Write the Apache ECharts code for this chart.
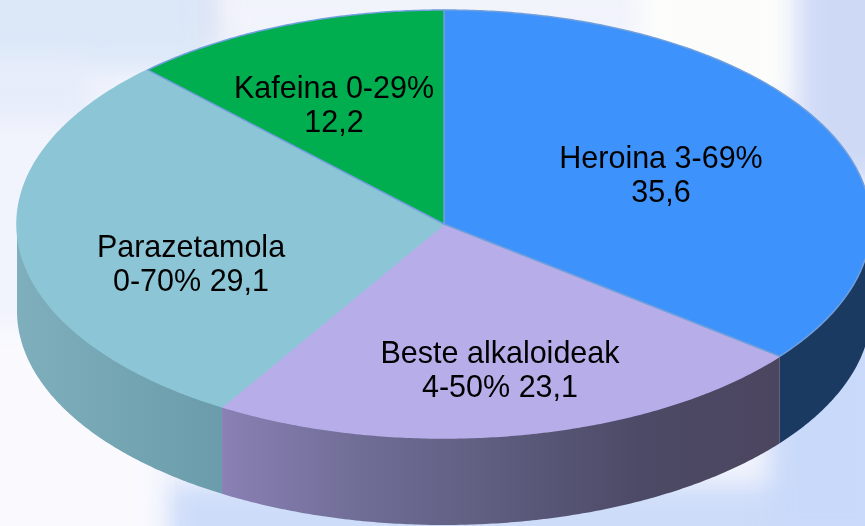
<!DOCTYPE html>
<html style="height: 100%">

<head>
	<meta charset="utf-8">
	<style>
		html, body { margin: 0; height: 100%; overflow: hidden; background: #f2f4fd; }
		#backdrop { position: absolute; left: 0; top: 0; width: 865px; height: 526px; overflow: hidden; }
		#backdrop div { position: absolute; filter: blur(12px); }
		#container { position: absolute; left: 0; top: 0; width: 865px; height: 526px; }
	</style>
</head>

<body>
	<div id="backdrop">
		<div style="left:-30px; top:-30px; width:240px; height:100px; background:#dce8f8"></div>
		<div style="left:-30px; top:60px; width:120px; height:60px; background:#e6ecfa"></div>
		<div style="left:205px; top:-20px; width:14px; height:60px; background:#d6dcee"></div>
		<div style="left:225px; top:-30px; width:430px; height:60px; background:#f1f3fb"></div>
		<div style="left:640px; top:-30px; width:150px; height:130px; background:#fcfdfb"></div>
		<div style="left:800px; top:-30px; width:100px; height:210px; background:#ced9f6"></div>
		<div style="left:170px; top:485px; width:720px; height:80px; background:#cddcf9"></div>
		<div style="left:770px; top:300px; width:120px; height:240px; background:#c9d9f9"></div>
		<div style="left:-30px; top:330px; width:185px; height:230px; background:#fafafe"></div>
	</div>
	<div id="container"></div>
	<script type="text/javascript" src="https://cdn.jsdelivr.net/npm/echarts@6/dist/echarts.min.js"></script>
	<script type="text/javascript">
		const categories = ['Heroina', 'Beste alkaloideak', 'Parazetamola', 'Kafeina'];
		const values = [35.6, 23.1, 29.1, 12.2];
		const labels = ['Heroina 3-69%\n35,6', 'Beste alkaloideak\n4-50% 23,1', 'Parazetamola\n0-70% 29,1', 'Kafeina 0-29%\n12,2'];

		const topColors = ['#3e92fb', '#b6ade9', '#8cc6d6', '#00ad4f'];
		const topStrokes = ['#6f9fdc', '#b6ade9', '#8cc6d6', '#6f9fdc'];
		const sideColors = [
			['#1a3a62', '#1a3a62'],
			['#8a80b4', '#6f6d96', '#5e5c7e', '#4c4a66', '#4c4560'],
			['#7fafbc', '#6a9cab'],
			['#000', '#000']
		];
		// label centre, offset from the pie centre
		const labelOffset = [[217, -47], [56, 148], [-253, 42], [-110, -117]];

		const cx = 444, cy = 224, rx = 427, ry = 214, depth = 87;
		const total = values.reduce((a, b) => a + b, 0);

		function sliceAngles(index) {
			let before = 0;
			for (let i = 0; i < index; i++) {
				before += values[i];
			}
			return [before / total * 360, (before + values[index]) / total * 360];
		}

		function rimPoint(deg, dy) {
			let a = deg * Math.PI / 180;
			return [cx + rx * Math.sin(a), cy - ry * Math.cos(a) + dy];
		}

		function arcPoints(from, to, dy) {
			let pts = [];
			let steps = Math.ceil(Math.abs(to - from) * 2);
			for (let i = 0; i <= steps; i++) {
				pts.push(rimPoint(from + (to - from) * i / steps, dy));
			}
			return pts;
		}

		function renderSide(params, api) {
			let i = api.value(1);
			let ang = sliceAngles(i);
			let from = Math.max(ang[0], 90);
			let to = Math.min(ang[1], 270);
			if (from >= to) {
				return { type: 'group', children: [] };
			}
			let pts = arcPoints(from, to, 0).concat(arcPoints(to, from, depth));
			let stops = sideColors[i].map(function (color, k, all) {
				return { offset: k / (all.length - 1), color: color };
			});
			let children = [{
				type: 'polygon',
				shape: { points: pts },
				style: { fill: new echarts.graphic.LinearGradient(0, 0, 1, 0, stops) }
			}];
			if (i === 0) {
				// light seam on the front edge of the blue slice
				children.push({
					type: 'line',
					shape: {
						x1: rimPoint(from, 0)[0], y1: rimPoint(from, 0)[1],
						x2: rimPoint(from, depth)[0], y2: rimPoint(from, depth)[1]
					},
					style: { stroke: topStrokes[0], lineWidth: 2 }
				});
			}
			return { type: 'group', children: children };
		}

		function renderTop(params, api) {
			let i = api.value(1);
			let ang = sliceAngles(i);
			return {
				type: 'polygon',
				shape: { points: [[cx, cy]].concat(arcPoints(ang[0], ang[1], 0)) },
				style: { fill: topColors[i], stroke: topStrokes[i], lineWidth: 1.5, lineJoin: 'round' }
			};
		}

		function renderLabel(params, api) {
			let i = api.value(1);
			return {
				type: 'text',
				x: cx + labelOffset[i][0],
				y: cy + labelOffset[i][1],
				style: {
					text: labels[i],
					fill: '#000',
					font: '30.5px "Liberation Sans"',
					lineHeight: 34,
					align: 'center',
					verticalAlign: 'middle'
				}
			};
		}

		let seriesRows = values.map(function (v, i) { return [v, i, categories[i]]; });

		let myChart = echarts.init(document.getElementById('container'));
		let option = {
			backgroundColor: 'transparent',
			animation: false,
			series: [
				{ type: 'custom', coordinateSystem: 'none', data: seriesRows, renderItem: renderSide, silent: true, z: 1 },
				// Beste first so the blue and green outlines sit on top of it
				{ type: 'custom', coordinateSystem: 'none', data: [seriesRows[1], seriesRows[2], seriesRows[0], seriesRows[3]], renderItem: renderTop, silent: true, z: 2 },
				{ type: 'custom', coordinateSystem: 'none', data: seriesRows, renderItem: renderLabel, silent: true, z: 3 }
			]
		};
		myChart.setOption(option);
	</script>
</body>
</html>
